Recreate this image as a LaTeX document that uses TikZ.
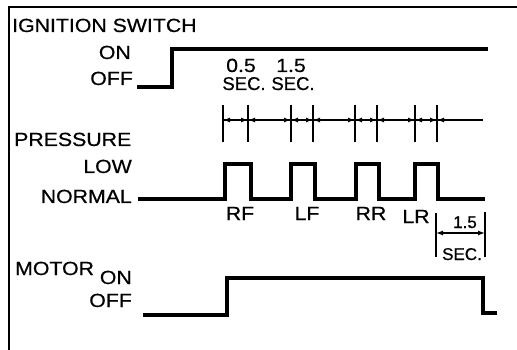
\documentclass[tikz,border=0pt]{standalone}
\usepackage{fontspec}
\setmainfont{Liberation Sans}[FakeStretch=1.12,FakeBold=0.6]
\newfontfamily\plainsans{Liberation Sans}[FakeBold=0.6]
\usetikzlibrary{arrows.meta}
\begin{document}
\begin{tikzpicture}[x=1pt,y=-1pt,
  lbl/.style={inner sep=0pt,font=\fontsize{19}{20}\selectfont},
  seclbl/.style={inner sep=0pt,font=\plainsans\fontsize{18.5}{19}\selectfont},
  small/.style={inner sep=0pt,font=\plainsans\fontsize{17}{18}\selectfont},
  trace/.style={line width=3.2pt,line join=miter},
  frame/.style={line width=1.5pt},
  tick/.style={line width=1.8pt},
  dim/.style={line width=1.3pt},
  dh/.style={-{Latex[length=7pt,width=5pt]}},
  ddh/.style={{Latex[length=7pt,width=5pt]}-{Latex[length=7pt,width=5pt]}}]
\useasboundingbox (0,0) rectangle (517,350);
% frame
\draw[frame] (9,350) -- (9,7) -- (517,7);
% labels
\node[lbl,anchor=base west] (ign) at (12,32) {IGNITION SWITCH};
\node[lbl,anchor=base east] (ion) at (131,59) {ON};
\node[lbl,anchor=base east] (ioff) at (133,85) {OFF};
\node[lbl,anchor=base] (t05) at (241,72) {0.5};
\node[seclbl,anchor=base] (s05) at (244,90) {SEC.};
\node[lbl,anchor=base] (t15) at (291,72) {1.5};
\node[seclbl,anchor=base] (s15) at (293,90) {SEC.};
\node[lbl,anchor=base west] (pres) at (14,146) {PRESSURE};
\node[lbl,anchor=base east] (low) at (132,173) {LOW};
\node[lbl,anchor=base east] (norm) at (132,203) {NORMAL};
\node[lbl,anchor=base] (rf) at (240,220) {RF};
\node[lbl,anchor=base] (lf) at (307,220) {LF};
\node[lbl,anchor=base] (rr) at (371,220) {RR};
\node[lbl,anchor=base] (lr) at (416,223) {LR};
\node[small,anchor=base] (d15) at (465,228) {1.5};
\node[small,anchor=base] (dsec) at (462,260) {SEC.};
\node[lbl,anchor=base west] (mot) at (15,275) {MOTOR};
\node[lbl,anchor=base east] (mon) at (132,284) {ON};
\node[lbl,anchor=base east] (moff) at (132,307) {OFF};
% ignition trace
\draw[trace] (137,87) -- (172,87) -- (172,49) -- (488,49);
% timing line and ticks
\draw[dim] (222,120) -- (483,120);
\foreach \a/\b in {223/248,291/313,355/377,415/437}{
  \draw[tick] (\a,105) -- (\a,142);
  \draw[tick] (\b,105) -- (\b,142);
  \draw[dim,ddh] (\a,120) -- (\b,120);
  \draw[dim,dh] (\b+10,120) -- (\b,120);
}
\foreach \a in {291,355,415}{
  \draw[dim,dh] (\a-10,120) -- (\a,120);
}
% pressure trace
\draw[trace] (138,199) -- (225,199) -- (225,164) -- (251,164) -- (251,199)
  -- (291,199) -- (291,164) -- (315,164) -- (315,199)
  -- (356,199) -- (356,164) -- (379,164) -- (379,199)
  -- (415,199) -- (415,164) -- (438,164) -- (438,199) -- (485,199);
% 1.5 sec dimension
\draw[tick,line width=1.5pt] (436,213) -- (436,257);
\draw[tick,line width=1.5pt] (485,212) -- (485,257);
\draw[dim,ddh] (436,233) -- (485,233);
% motor trace
\draw[trace] (143,315) -- (227,315) -- (227,278) -- (483,278) -- (483,313) -- (497,313);
\end{tikzpicture}
\end{document}
